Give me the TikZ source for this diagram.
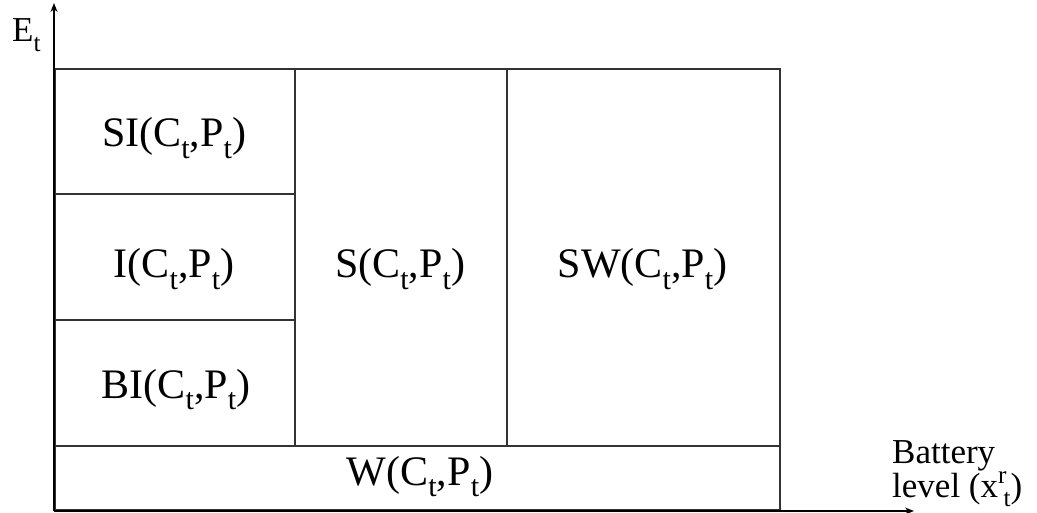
\documentclass[tikz,border=0pt]{standalone}
\usepackage{fontspec}
\setmainfont{Liberation Serif}
\usetikzlibrary{arrows.meta}

% lowered and raised small letters for indices
\newcommand\lo[1]{\raisebox{-0.27em}{\scalebox{0.72}{#1}}}
\newcommand\hi[1]{\raisebox{0.38em}{\scalebox{0.72}{#1}}}
\newcommand\ctpt{(C\lo{t},P\lo{t})}

\tikzset{
  cell/.style={draw=black!80, line width=1.3pt, inner sep=0pt, rectangle},
  lbl/.style={font=\fontsize{42}{50}\selectfont, inner sep=0pt, anchor=base},
  axlbl/.style={font=\fontsize{35}{30}\selectfont, inner sep=0pt, anchor=base west, align=left},
  axis/.style={line width=1.2pt, -{Stealth[length=9pt,width=7pt]}}
}

\begin{document}
\begin{tikzpicture}[x=1pt,y=-1pt]
  \useasboundingbox (0,0) rectangle (1037,513);

  % cells of the state partition
  \node[cell, minimum width=240pt, minimum height=125pt] (siCell) at (175,131.5) {};
  \node[cell, minimum width=240pt, minimum height=126pt] (iCell)  at (175,257) {};
  \node[cell, minimum width=240pt, minimum height=126pt] (biCell) at (175,383) {};
  \node[cell, minimum width=212pt, minimum height=377pt] (sCell)  at (401,257.5) {};
  \node[cell, minimum width=273pt, minimum height=377pt] (swCell) at (643.5,257.5) {};
  \node[cell, minimum width=725pt, minimum height=64pt]  (wCell)  at (417.5,478) {};

  % region labels
  \node[lbl] (siText) at (174,147) {SI\ctpt};
  \node[lbl] (iText)  at (174,278) {I\ctpt};
  \node[lbl] (biText) at (176,398) {BI\ctpt};
  \node[lbl] (sText)  at (400,278) {S\ctpt};
  \node[lbl] (swText) at (642.5,278) {SW\ctpt};
  \node[lbl] (wText)  at (420,485) {W\ctpt};

  % axes
  \coordinate (origin) at (54,511);
  \coordinate (yEnd) at (54,3);
  \coordinate (xEnd) at (914,511);
  \draw[axis] (origin) -- (yEnd);
  \draw[axis] (origin) -- (xEnd);

  \node[axlbl] (yLabel) at (12,42) {E\lo{t}};
  \node[axlbl] (xLabel) at (892,497) {Battery\\level (x\hi{r}\hspace{-0.08em}\lo{t})};
\end{tikzpicture}
\end{document}
